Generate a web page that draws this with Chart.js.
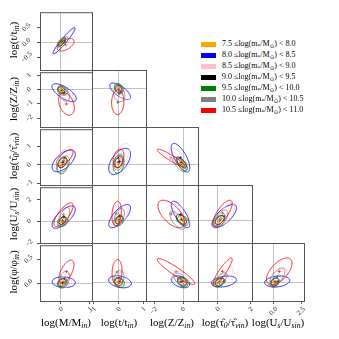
<!DOCTYPE html>
<html><head><meta charset="utf-8">
<script src="https://cdn.jsdelivr.net/npm/chart.js@4.4.1/dist/chart.umd.min.js"></script>
<style>
html,body{margin:0;padding:0;background:#fff;}
#wrap{position:relative;width:339px;height:339px;overflow:hidden;font-family:'Liberation Serif','DejaVu Serif',serif;color:#000;}
#wrap canvas{position:absolute;}
.xt,.yt{position:absolute;font-size:11px;white-space:nowrap;line-height:1;color:#000;}
.xt{transform:translate(-50%,-50%);}
.yt{transform:translate(-50%,-50%) rotate(-90deg);}
.xt sub,.yt sub{font-size:70%;font-style:italic;vertical-align:-0.3em;line-height:0;}
.lg{position:absolute;font-size:8px;white-space:nowrap;line-height:1;transform:translateY(-50%);color:#000;}
.lg sub{font-size:70%;vertical-align:-0.3em;line-height:0;color:#000;}
.sw{position:absolute;width:15px;height:5px;}
</style></head>
<body><div id="wrap"></div>
<script>
// ---------------- data ----------------
const massBinLow  = [7.5, 8.0, 8.5, 9.0, 9.5, 10.0, 10.5];
const massBinHigh = [8.0, 8.5, 9.0, 9.5, 10.0, 10.5, 11.0];
const xVars = ['M', 't', 'Z', 'tau', 'U'];
const yVars = ['t', 'Z', 'tau', 'U', 'phi'];
const xTitles = ['log(M/M<sub>in</sub>)', 'log(t/t<sub>in</sub>)', 'log(Z/Z<sub>in</sub>)', 'log(τ̂<sub>0</sub>/τ̂<sub>vin</sub>)', 'log(U<sub>s</sub>/U<sub>sin</sub>)'];
const yTitles = ['log(t/t<sub>in</sub>)', 'log(Z/Z<sub>in</sub>)', 'log(τ̂<sub>0</sub>/τ̂<sub>vin</sub>)', 'log(U<sub>s</sub>/U<sub>sin</sub>)', 'log(φ/φ<sub>in</sub>)'];
const xLimits = { M: [-0.72, 1.07], t: [-1.08, 1.1], Z: [-2.64, 1.07], tau: [-1.19, 2.08], U: [-1.96, 2.76] };
const yLimits = { t: [-0.93, 1.01], Z: [-2.6, 1.2], tau: [-1.07, 1.9], U: [-2.0, 3.15], phi: [-0.37, 0.79] };
const xTickValues = { M: [0, 1], t: [-1, 0, 1], Z: [-2, 0], tau: [0, 2], U: [0, 2.5] };
const xTickLabels = { M: ['0', '1'], t: ['−1', '0', '1'], Z: ['−2', '0'], tau: ['0', '2'], U: ['0.0', '2.5'] };
const yTickValues = { t: [-0.5, 0, 0.5], Z: [-2, -1, 0, 1], tau: [-1, 0, 1], U: [-2, 0, 2], phi: [0, 0.5] };
const yTickLabels = { t: ['−0.5', '0.0', '0.5'], Z: ['−2', '−1', '0', '1'], tau: ['−1', '0', '1'], U: ['−2', '0', '2'], phi: ['0.0', '0.5'] };

// ellipses per panel, one row per mass bin: [centre x, centre y, sigma x, sigma y, correlation]
const ell_t_M = [[0.0,0.0,0.09,0.10,0.6],[0.107,0.05,0.38,0.44,0.95],[0.107,0.01,0.17,0.16,0.5],[0.04,0.0,0.12,0.13,0.7],[0.02,0.02,0.14,0.15,0.7],[0.07,0.0,0.17,0.19,0.7],[0.165,-0.085,0.29,0.21,0.55]];
const ell_Z_M = [[0.0,0.0,0.07,0.17,-0.3],[0.11,-0.22,0.42,0.62,-0.7],[0.11,-0.33,0.17,0.47,-0.5],[0.02,-0.03,0.12,0.23,-0.3],[0.05,-0.07,0.17,0.33,-0.3],[0.1,-0.3,0.2,0.5,-0.4],[0.19,-1.0,0.27,0.78,-0.35]];
const ell_Z_t = [[0.0,0.0,0.1,0.2,-0.3],[0.056,-0.22,0.42,0.55,-0.7],[0.15,-0.4,0.3,0.4,-0.6],[-0.01,-0.07,0.14,0.27,-0.3],[0.0,-0.02,0.18,0.33,-0.3],[0.016,-0.41,0.23,0.5,-0.2],[-0.04,-0.95,0.25,0.82,0.05]];
const ell_tau_M = [[0.04,0.05,0.1,0.2,0.4],[0.096,0.22,0.40,0.58,0.6],[0.17,0.46,0.24,0.51,0.5],[0.055,0.13,0.15,0.28,0.4],[0.055,-0.05,0.19,0.43,0.3],[0.08,0.04,0.22,0.43,0.4],[0.13,0.37,0.29,0.43,0.7]];
const ell_tau_t = [[0.0,0.02,0.12,0.2,0.3],[0.036,0.14,0.44,0.67,0.55],[0.14,0.5,0.3,0.55,0.5],[0.0,0.1,0.16,0.28,0.3],[-0.01,-0.01,0.22,0.46,0.2],[0.0,0.1,0.2,0.41,0.3],[-0.01,0.29,0.22,0.48,0.3]];
const ell_tau_Z = [[-0.05,0.0,0.21,0.2,-0.5],[-0.18,0.33,0.66,0.73,-0.7],[-0.36,0.29,0.6,0.51,-0.6],[-0.12,0.08,0.36,0.28,-0.7],[-0.04,-0.03,0.36,0.31,-0.6],[-0.24,-0.01,0.48,0.38,-0.7],[-0.86,0.32,0.98,0.45,-0.93]];
const ell_U_M = [[0.04,0.0,0.09,0.27,0.3],[0.096,0.39,0.40,1.03,0.7],[0.13,0.61,0.23,0.96,0.6],[0.055,0.06,0.12,0.35,0.4],[0.06,-0.05,0.18,0.44,0.3],[0.11,0.42,0.19,0.86,0.6],[0.09,0.61,0.33,1.1,0.75]];
const ell_U_t = [[0.0,0.0,0.1,0.27,0.3],[0.036,0.39,0.44,1.03,0.7],[0.13,0.5,0.24,0.8,0.5],[0.01,0.06,0.14,0.35,0.4],[0.0,-0.05,0.2,0.44,0.3],[0.03,0.37,0.2,0.7,0.4],[-0.085,0.61,0.19,1.1,0.2]];
const ell_U_Z = [[-0.03,0.0,0.21,0.27,-0.4],[-0.18,0.53,0.66,1.18,-0.75],[-0.07,0.46,0.57,0.88,-0.6],[-0.11,0.1,0.36,0.44,-0.5],[-0.01,0.0,0.39,0.44,-0.3],[-0.41,0.02,0.54,0.81,-0.7],[-0.84,0.58,0.95,1.22,-0.6]];
const ell_U_tau = [[0.05,0.0,0.18,0.27,0.4],[0.4,0.39,0.74,1.03,0.7],[0.54,0.59,0.48,0.93,0.6],[0.12,0.04,0.27,0.4,0.5],[0.07,-0.07,0.36,0.49,0.4],[0.22,0.19,0.4,0.73,0.6],[0.3,0.65,0.58,1.15,0.75]];
const ell_phi_M = [[0.02,0.0,0.09,0.06,0.2],[0.096,0.02,0.40,0.11,-0.1],[0.19,0.05,0.2,0.14,0.3],[0.04,0.01,0.14,0.08,0.2],[0.06,0.0,0.18,0.1,0.2],[0.13,0.09,0.17,0.16,0.3],[0.19,0.24,0.26,0.24,0.6]];
const ell_phi_t = [[0.0,0.0,0.1,0.06,0.0],[0.05,0.014,0.46,0.12,-0.3],[0.09,0.07,0.24,0.14,0.2],[0.0,0.01,0.16,0.08,0.0],[0.02,0.0,0.21,0.1,-0.2],[0.01,0.08,0.2,0.16,0.2],[-0.07,0.21,0.2,0.25,0.1]];
const ell_phi_Z = [[0.0,0.0,0.21,0.06,-0.2],[-0.18,0.014,0.66,0.12,-0.4],[-0.14,0.09,0.54,0.14,-0.5],[-0.07,0.02,0.32,0.09,-0.3],[0.0,0.0,0.36,0.09,-0.2],[-0.21,0.07,0.46,0.12,-0.5],[-0.5,0.22,1.34,0.26,-0.93]];
const ell_phi_tau = [[0.05,0.0,0.18,0.06,0.3],[0.38,0.02,0.76,0.11,0.3],[0.51,0.15,0.42,0.16,0.7],[0.12,0.01,0.27,0.08,0.4],[0.085,0.0,0.36,0.09,0.4],[0.2,0.066,0.36,0.13,0.6],[0.3,0.22,0.58,0.27,0.9]];
const ell_phi_U = [[0.05,0.0,0.23,0.05,0.2],[0.33,0.02,1.14,0.11,0.2],[0.49,0.13,0.73,0.16,0.6],[0.13,0.01,0.36,0.08,0.3],[0.08,0.0,0.41,0.09,0.3],[0.35,0.12,0.68,0.17,0.6],[0.51,0.22,1.16,0.27,0.6]];

// ---------------- layout / style ----------------
const binColors = ['#ffa500', '#0000ff', '#ffc0cb', '#000000', '#008000', '#808080', '#ff0000'];
const colEdges = [40, 92, 146, 198, 252, 304];
const rowEdges = [10, 70, 127, 185, 243, 301];
const panels = [
  [0, 0, ell_t_M],
  [1, 0, ell_Z_M], [1, 1, ell_Z_t],
  [2, 0, ell_tau_M], [2, 1, ell_tau_t], [2, 2, ell_tau_Z],
  [3, 0, ell_U_M], [3, 1, ell_U_t], [3, 2, ell_U_Z], [3, 3, ell_U_tau],
  [4, 0, ell_phi_M], [4, 1, ell_phi_t], [4, 2, ell_phi_Z], [4, 3, ell_phi_tau], [4, 4, ell_phi_U]
];
const ML = 36, MT = 6, MR = 6, MB = 24;
const wrap = document.getElementById('wrap');
const binLabel = i => massBinLow[i].toFixed(1) + ' ≤log(m<sub>*</sub>/M<sub>⊙</sub>) &lt; ' + massBinHigh[i].toFixed(1);

const ellipsePlugin = {
  id: 'ellipses',
  afterDatasetsDraw(chart, args, opts) {
    const { ctx, chartArea: a } = chart;
    const xs = chart.scales.x, ys = chart.scales.y;
    ctx.save();
    ctx.beginPath(); ctx.rect(a.left, a.top, a.right - a.left, a.bottom - a.top); ctx.clip();
    opts.list.forEach((e, i) => {
      const [cx, cy, sx, sy, r] = e;
      const q = Math.sqrt(1 - r * r);
      ctx.beginPath();
      for (let k = 0; k <= 90; k++) {
        const t = k / 90 * 2 * Math.PI;
        const px = xs.getPixelForValue(cx + sx * Math.cos(t));
        const py = ys.getPixelForValue(cy + sy * (r * Math.cos(t) + q * Math.sin(t)));
        if (k === 0) ctx.moveTo(px, py); else ctx.lineTo(px, py);
      }
      ctx.closePath();
      ctx.strokeStyle = binColors[i];
      ctx.lineWidth = 0.85;
      ctx.stroke();
    });
    ctx.restore();
  }
};
const framePlugin = {
  id: 'frame',
  afterDraw(chart) {
    const { ctx, chartArea: a } = chart;
    ctx.save();
    ctx.strokeStyle = '#555';
    ctx.lineWidth = 1;
    ctx.strokeRect(a.left + 0.5, a.top + 0.5, a.right - a.left, a.bottom - a.top);
    ctx.restore();
  }
};
const tickFont = { family: "'Liberation Serif', serif", size: 7 };
const zeroLine = c => (c.tick && c.tick.value === 0) ? '#c2c2c2' : 'rgba(0,0,0,0)';

panels.forEach(([r, c, ells]) => {
  const xv = xVars[c], yv = yVars[r];
  const w = colEdges[c + 1] - colEdges[c], h = rowEdges[r + 1] - rowEdges[r];
  const cv = document.createElement('canvas');
  cv.width = w + ML + MR; cv.height = h + MT + MB;
  cv.style.left = (colEdges[c] - ML) + 'px';
  cv.style.top = (rowEdges[r] - MT) + 'px';
  wrap.appendChild(cv);
  const isLeft = c === 0, isBottom = r === 4;
  new Chart(cv, {
    type: 'scatter',
    data: {
      datasets: ells.map((e, i) => ({
        label: massBinLow[i] + '-' + massBinHigh[i],
        data: [{ x: e[0], y: e[1] }],
        pointStyle: 'cross', pointRadius: 1.6, borderWidth: 0.7,
        borderColor: binColors[i], backgroundColor: binColors[i]
      }))
    },
    options: {
      animation: false, responsive: false, devicePixelRatio: 1, events: [],
      layout: { padding: { left: 0, top: MT, right: MR, bottom: 0 } },
      plugins: { legend: { display: false }, tooltip: { enabled: false }, ellipses: { list: ells } },
      scales: {
        x: {
          type: 'linear', position: 'bottom', min: xLimits[xv][0], max: xLimits[xv][1],
          afterFit: s => { s.height = MB; },
          afterBuildTicks: s => { s.ticks = xTickValues[xv].map(v => ({ value: v })); },
          ticks: {
            display: isBottom, autoSkip: false, minRotation: 45, maxRotation: 45, padding: 1,
            labelOffset: xv === 'U' ? 3 : 1.5,
            font: tickFont, color: '#222',
            callback: v => { const k = xTickValues[xv].indexOf(v); return k >= 0 ? xTickLabels[xv][k] : ''; }
          },
          grid: { color: zeroLine, lineWidth: 1, drawTicks: isBottom, tickLength: 3, tickColor: '#555' },
          border: { display: false }
        },
        y: {
          type: 'linear', position: 'left', min: yLimits[yv][0], max: yLimits[yv][1],
          afterFit: s => { s.width = ML; },
          afterBuildTicks: s => { s.ticks = yTickValues[yv].map(v => ({ value: v })); },
          ticks: {
            display: isLeft, autoSkip: false, minRotation: 45, maxRotation: 45, padding: 4,
            crossAlign: 'center', font: tickFont, color: '#222',
            callback: v => { const k = yTickValues[yv].indexOf(v); return k >= 0 ? yTickLabels[yv][k] : ''; }
          },
          grid: { color: zeroLine, lineWidth: 1, drawTicks: isLeft, tickLength: 3, tickColor: '#555' },
          border: { display: false }
        }
      }
    },
    plugins: [ellipsePlugin, framePlugin]
  });
});

// axis titles
xTitles.forEach((t, c) => {
  const d = document.createElement('div');
  d.className = 'xt'; d.innerHTML = t;
  d.style.left = ((colEdges[c] + colEdges[c + 1]) / 2) + 'px';
  d.style.top = '322px';
  wrap.appendChild(d);
});
yTitles.forEach((t, r) => {
  const d = document.createElement('div');
  d.className = 'yt'; d.innerHTML = t;
  d.style.left = '13px';
  d.style.top = ((rowEdges[r] + rowEdges[r + 1]) / 2) + 'px';
  wrap.appendChild(d);
});
// legend
massBinLow.forEach((lo, i) => {
  const yc = 44 + i * 11;
  const s = document.createElement('div');
  s.className = 'sw'; s.style.left = '201px'; s.style.top = (yc - 2.5) + 'px';
  s.style.background = binColors[i];
  wrap.appendChild(s);
  const l = document.createElement('div');
  l.className = 'lg'; l.innerHTML = binLabel(i);
  l.style.left = '222px'; l.style.top = yc + 'px';
  wrap.appendChild(l);
});
</script>
</body></html>
